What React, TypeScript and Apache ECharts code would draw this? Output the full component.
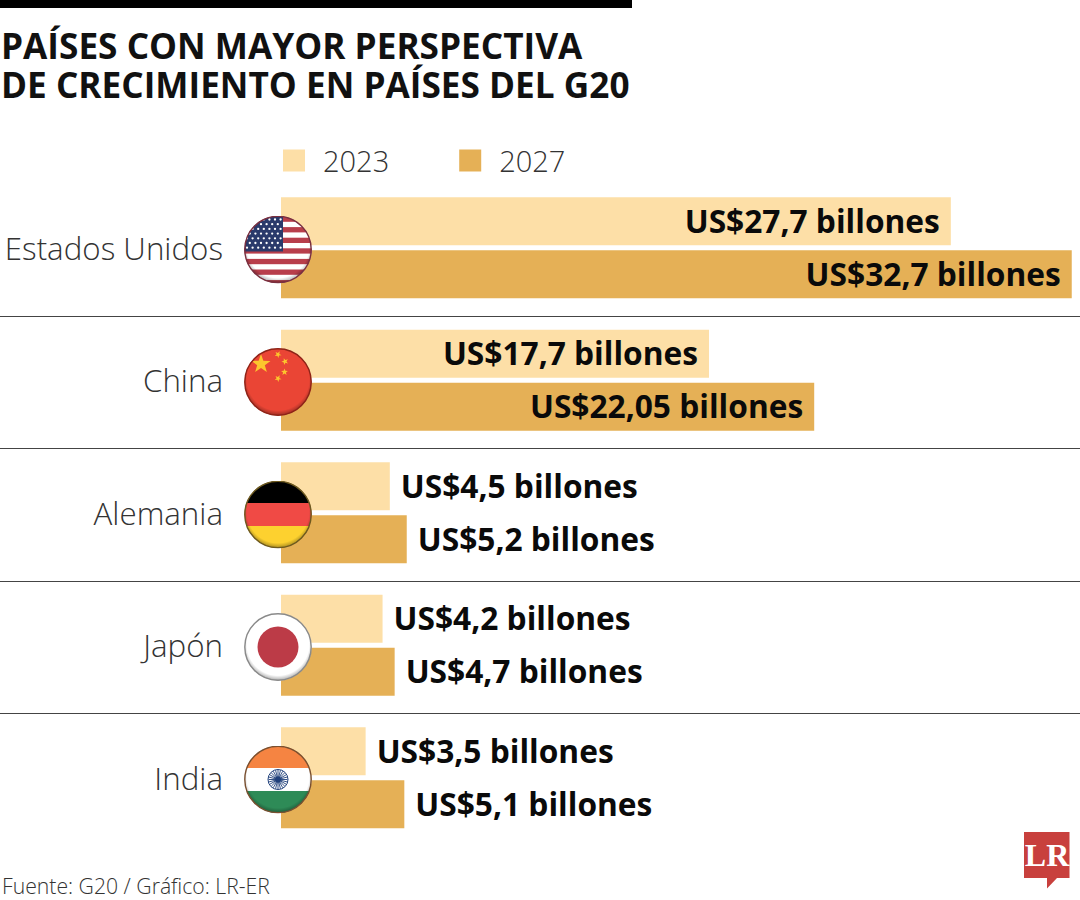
import React, { useEffect, useRef } from "react";
import * as echarts from "echarts";

const categories = ["Estados Unidos", "China", "Alemania", "Japón", "India"];
const years = ["2023", "2027"];
const values2023 = [27.7, 17.7, 4.5, 4.2, 3.5];
const values2027 = [32.7, 22.05, 5.2, 4.7, 5.1];
const titleLines = ["PAÍSES CON MAYOR PERSPECTIVA", "DE CRECIMIENTO EN PAÍSES DEL G20"];
const sourceText = "Fuente: G20 / Gráfico: LR-ER";
const COLOR_2023 = "#FDDFA7";
const COLOR_2027 = "#E5B056";
const FONT = '"Open Sans", sans-serif';

const R = 34;
const wrap = (body: string, rim: string) =>
  "data:image/svg+xml;utf8," +
  encodeURIComponent(
    `<svg xmlns="http://www.w3.org/2000/svg" width="68" height="68" viewBox="0 0 68 68"><defs><clipPath id="c"><circle cx="34" cy="34" r="33.5"/></clipPath><radialGradient id="s" cx="50%" cy="46%" r="52%"><stop offset="88%" stop-color="#000" stop-opacity="0"/><stop offset="100%" stop-color="#000" stop-opacity="0.28"/></radialGradient></defs><g clip-path="url(#c)">${body}<circle cx="34" cy="34" r="34" fill="url(#s)"/></g><circle cx="34" cy="34" r="33.2" fill="none" stroke="${rim}" stroke-width="1.4"/></svg>`
  );
const star = (cx: number, cy: number, r: number, fill: string, rot = 0) => {
  const pts: string[] = [];
  for (let i = 0; i < 10; i++) {
    const rad = i % 2 ? r * 0.4 : r;
    const a = -Math.PI / 2 + rot + (i * Math.PI) / 5;
    pts.push(`${(cx + rad * Math.cos(a)).toFixed(2)},${(cy + rad * Math.sin(a)).toFixed(2)}`);
  }
  return `<polygon points="${pts.join(" ")}" fill="${fill}"/>`;
};
const usFlag = () => {
  let b = `<rect width="68" height="68" fill="#fff"/>`;
  for (let i = 0; i < 7; i++) b += `<rect y="${i * 10.6 + 1}" width="68" height="5.3" fill="#B83E4B"/>`;
  b += `<rect width="39" height="36" fill="#2A3A6B"/>`;
  for (let r = 0; r < 7; r++)
    for (let c = 0; c < 7; c++) {
      const x = 3 + c * 5.6 + (r % 2 ? 2.8 : 0);
      const y = 4 + r * 4.7;
      if (x < 38) b += `<circle cx="${x}" cy="${y}" r="1.15" fill="#fff"/>`;
    }
  return wrap(b, "#7A3040");
};
const cnFlag = () =>
  wrap(
    `<rect width="68" height="68" fill="#EA4535"/>` +
      star(17, 16, 10, "#FCC62D") +
      star(34, 6.5, 3.6, "#FCC62D", 0.5) +
      star(41, 13.5, 3.6, "#FCC62D", 0.9) +
      star(40.5, 24, 3.6, "#FCC62D", 0) +
      star(34, 30.5, 3.6, "#FCC62D", 0.5),
    "#8E2418"
  );
const deFlag = () =>
  wrap(
    `<rect width="68" height="22.5" fill="#000"/><rect y="22.5" width="68" height="23" fill="#F04A45"/><rect y="45.5" width="68" height="23" fill="#FDD12F"/>`,
    "#6E5A20"
  );
const jpFlag = () => wrap(`<rect width="68" height="68" fill="#fff"/><circle cx="34" cy="34" r="20.5" fill="#BC3B47"/>`, "#8A8A8A");
const inFlag = () => {
  let spokes = "";
  for (let i = 0; i < 24; i++) {
    const a = (i * Math.PI) / 12;
    spokes += `<line x1="34" y1="34" x2="${(34 + 9.5 * Math.cos(a)).toFixed(2)}" y2="${(34 + 9.5 * Math.sin(a)).toFixed(2)}" stroke="#1F3F7A" stroke-width="0.9"/>`;
  }
  return wrap(
    `<rect width="68" height="22.5" fill="#F58442"/><rect y="22.5" width="68" height="23" fill="#fff"/><rect y="45.5" width="68" height="23" fill="#2E8B57"/>` +
      `<circle cx="34" cy="34" r="10" fill="#fff" stroke="#1F3F7A" stroke-width="1"/>${spokes}<circle cx="34" cy="34" r="3" fill="#1F3F7A"/>`,
    "#7A5030"
  );
};
const flags = [usFlag, cnFlag, deFlag, jpFlag, inFlag];
const flagCenters = [249.5, 382, 514.5, 647, 779.5];

const labelFor = (v: number) => ({
  value: v,
  label: { position: v > 10 ? "insideRight" : "right", distance: v > 10 ? 11 : 11, offset: [0, -1] },
});

export default function App() {
  const ref = useRef<HTMLDivElement>(null);
  useEffect(() => {
    const chart = echarts.init(ref.current!, null, { renderer: "svg" });
    const seriesLabel = {
      show: true,
      color: "#0A0A0A",
      fontFamily: FONT,
      fontWeight: 700,
      fontSize: 31.7,
      formatter: (p: any) => `US$${String(p.value).replace(".", ",")} billones`,
    };
    chart.setOption({
      animation: false,
      backgroundColor: "#fff",
      legend: {
        left: 283,
        top: 146,
        padding: 0,
        itemWidth: 22,
        itemHeight: 22,
        itemGap: 70,
        icon: "rect",
        data: years,
        textStyle: { fontFamily: FONT, fontWeight: 300, fontSize: 29, color: "#333", padding: [0, 0, 2, 13] },
      },
      grid: [
        { left: 281, top: 181.5, width: 798, height: 662.5 },
        { left: 0, top: 183.5, width: 1080, height: 662.5 },
      ],
      xAxis: [
        { type: "value", min: 0, max: 33, gridIndex: 0, show: false },
        { type: "value", min: 0, max: 1, gridIndex: 1, show: false },
      ],
      yAxis: [
        {
          type: "category",
          gridIndex: 0,
          inverse: true,
          data: categories,
          axisLine: { show: false },
          axisTick: { show: false },
          splitLine: { show: false },
          axisLabel: { margin: 58, align: "right", fontFamily: FONT, fontWeight: 300, fontSize: 31.3, color: "#333" },
        },
        {
          type: "category",
          gridIndex: 1,
          inverse: true,
          data: categories,
          axisLine: { show: false },
          axisTick: { show: false },
          axisLabel: { show: false },
          splitLine: { show: true, showMinLine: false, showMaxLine: false, lineStyle: { color: "#444", width: 1 } },
        },
      ],
      series: [
        {
          name: years[0],
          type: "bar",
          xAxisIndex: 0,
          yAxisIndex: 0,
          barWidth: 48,
          barGap: "10%",
          itemStyle: { color: COLOR_2023 },
          label: seriesLabel,
          data: values2023.map(labelFor),
        },
        {
          name: years[1],
          type: "bar",
          xAxisIndex: 0,
          yAxisIndex: 0,
          barWidth: 48,
          barGap: "10%",
          itemStyle: { color: COLOR_2027 },
          label: seriesLabel,
          data: values2027.map(labelFor),
        },
      ],
      graphic: [
        { type: "rect", left: 0, top: 0, shape: { width: 632, height: 8 }, style: { fill: "#000" } },
        {
          type: "text",
          x: 1,
          y: 25,
          style: { text: titleLines.join("\n"), lineHeight: 39, fontFamily: FONT, fontWeight: 700, fontSize: 35.2, fill: "#111" },
        },
        {
          type: "text",
          x: 2,
          y: 875,
          style: { text: sourceText, fontFamily: FONT, fontWeight: 300, fontSize: 21.2, fill: "#333" },
        },
        ...flags.map((f, i) => ({
          type: "image",
          x: 244,
          y: flagCenters[i] - R,
          z: 10,
          style: { image: f(), x: 0, y: 0, width: 68, height: 68 },
        })),
        {
          type: "polygon",
          shape: { points: [[1024, 832], [1069.5, 832], [1069.5, 878], [1057, 878], [1047, 888.5], [1047, 878], [1024, 878]] },
          style: { fill: "#C8403D" },
        },
        {
          type: "text",
          x: 1047,
          y: 855,
          style: {
            text: "LR",
            fontFamily: '"Liberation Serif", serif',
            fontWeight: 700,
            fontSize: 32,
            fill: "#fff",
            align: "center",
            verticalAlign: "middle",
          },
        },
      ],
    });
    return () => chart.dispose();
  }, []);
  return <div ref={ref} style={{ position: "absolute", left: 0, top: 0, width: 1080, height: 900 }} />;
}
